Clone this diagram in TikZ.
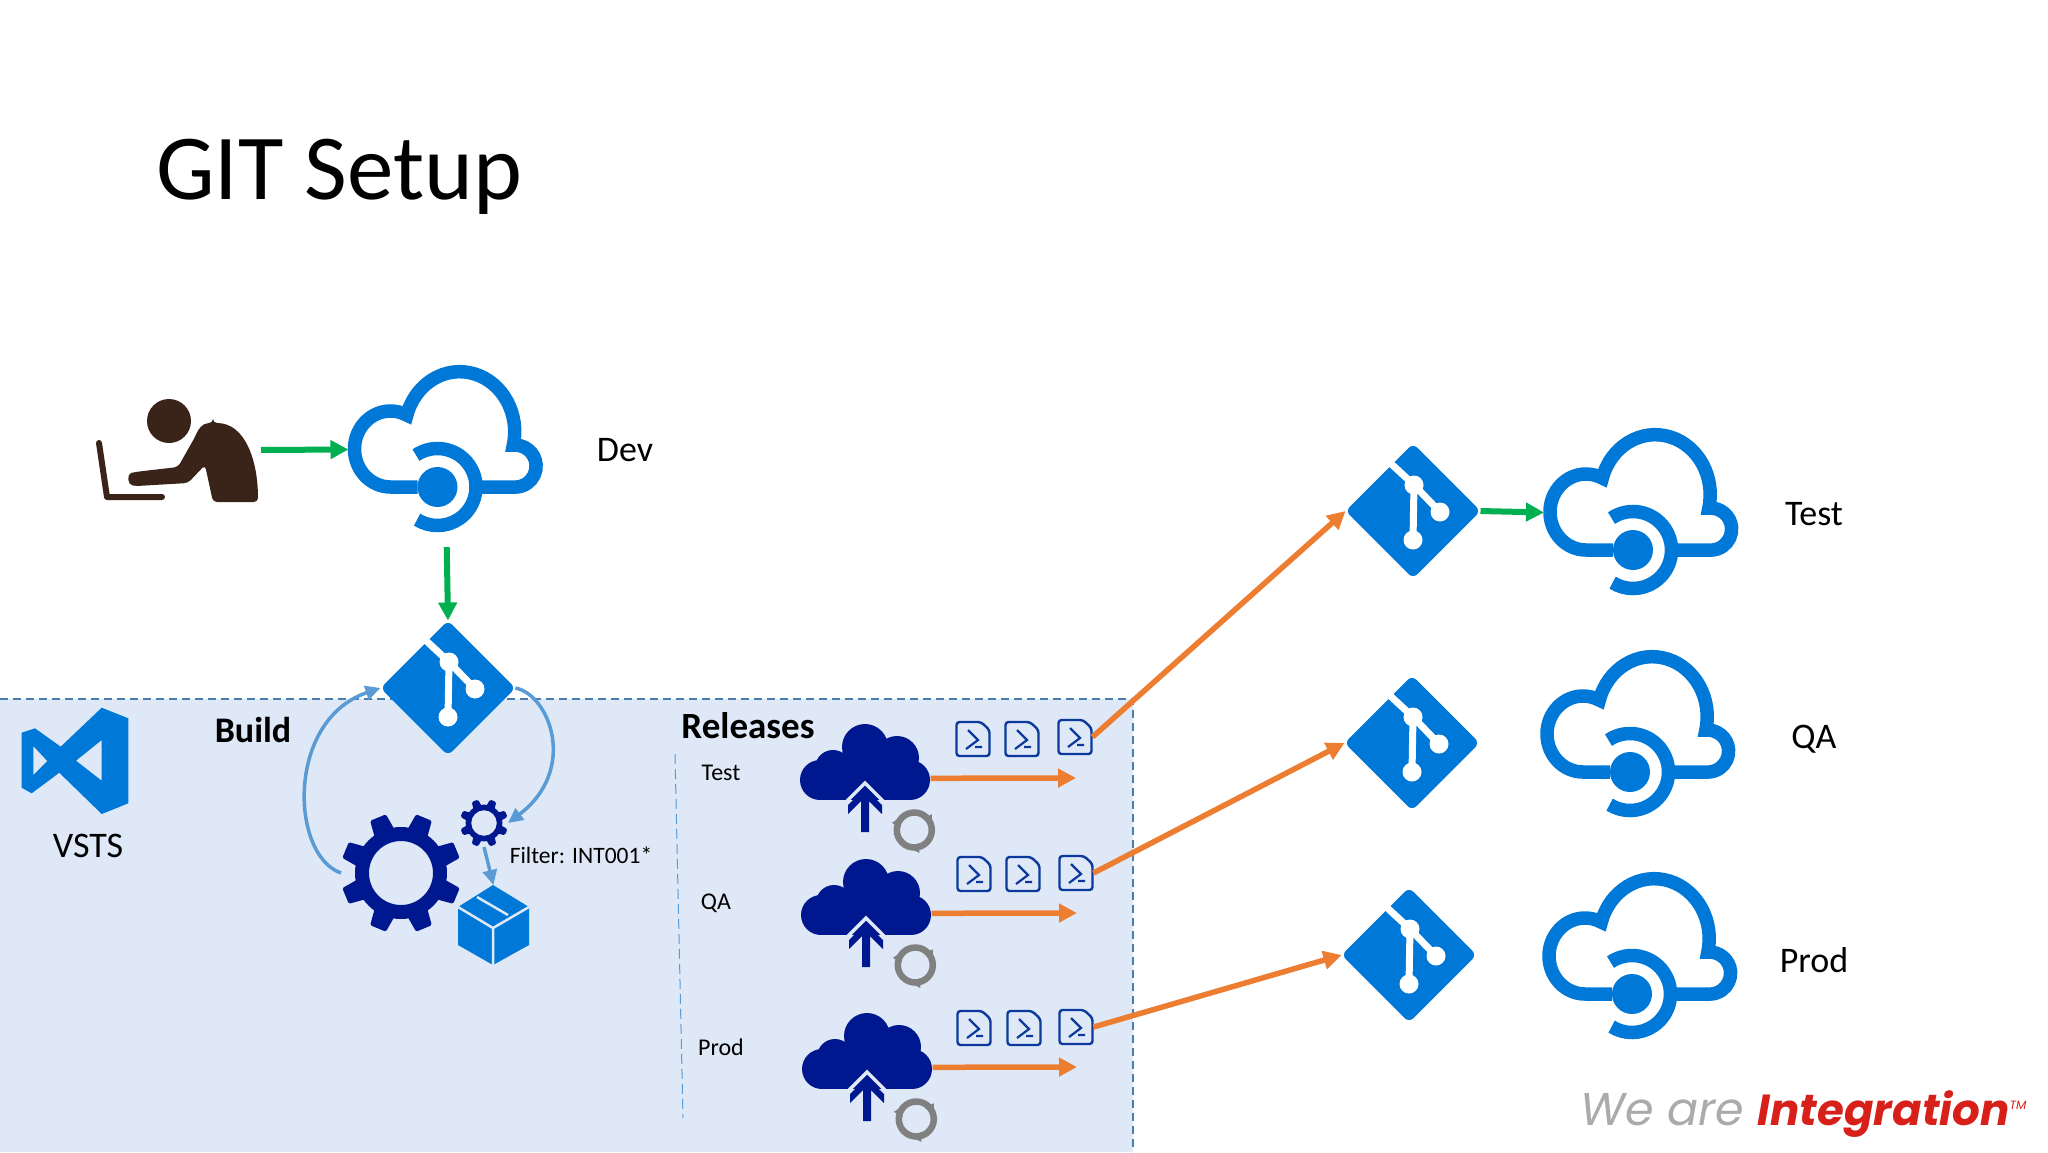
\documentclass[tikz,border=0pt]{standalone}
\usepackage{fontspec}
\setmainfont{Carlito}
\newfontfamily\logofont{Poppins}
\usetikzlibrary{arrows.meta, shapes.geometric}

\definecolor{azblue}{HTML}{0078D7}
\definecolor{navy}{HTML}{00188F}
\definecolor{scriptblue}{HTML}{0B3A9C}
\definecolor{vstsarea}{HTML}{DEE8F6}
\definecolor{areadash}{HTML}{4A7EB0}
\definecolor{linkblue}{HTML}{5B9BD5}
\definecolor{gitgreen}{HTML}{00B050}
\definecolor{deployorange}{HTML}{ED7D31}
\definecolor{userbrown}{HTML}{3A2318}
\definecolor{logored}{HTML}{D8201A}
\definecolor{logogray}{HTML}{ABABAB}

\tikzset{
  every pic/.style={yscale=-1},
  iconbox/.style={inner sep=0pt, outer sep=0pt, draw=none},
  label36/.style={inner sep=0pt, font=\fontsize{36}{40}\selectfont},
  label24/.style={inner sep=0pt, font=\fontsize{24}{28}\selectfont},
  greenarrow/.style={draw=gitgreen, line width=6pt, -{Triangle[length=18pt,width=18pt]}},
  orangearrow/.style={draw=deployorange, line width=5.5pt, -{Triangle[length=18pt,width=18pt]}},
  bluearrow/.style={draw=linkblue, line width=3.5pt, -{Triangle[length=15pt,width=14pt]}},
  % cloud with the repos ring, origin at the disc
  pics/azcloud/.style={code={
    \node[iconbox, minimum width=196pt, minimum height=169pt] (-box) at (9,-37.5) {};
    \draw[azblue, line width=13.5pt, line join=miter] (-20,0) -- (-47,0)
      arc[start angle=90, end angle=297, x radius=36pt, y radius=38pt]
      arc[start angle=196, end angle=373, x radius=55pt, y radius=60pt]
      arc[start angle=265, end angle=450, radius=21pt] -- (40,0);
    \draw[azblue, line width=13.5pt] (-124:38.5pt) arc[start angle=-124, end angle=122, radius=38.5pt];
    \fill[azblue] (0,0) circle (20pt);
  }},
  % git diamond
  pics/gitmark/.style={code={
    \node[iconbox, shape=diamond, aspect=1, minimum size=135pt, fill=azblue, rounded corners=6pt] (-box) {};
    \draw[white, line width=7pt] (-27,-52) -- (1,-26) -- (27,1);
    \draw[white, line width=7pt] (1,-26) -- (0,29);
    \fill[white] (1,-26) circle (9.5pt) (27,1) circle (9.5pt) (0,29) circle (9.5pt);
  }},
  % gear, #1 is the scale
  pics/gearicon/.style={code={
    \node[iconbox, minimum size={120pt*#1}] (-box) {};
    \begin{scope}[scale=#1]
      \fill[navy, even odd rule] (0,0) circle (46pt) (0,0) circle (32pt);
      \foreach \a in {22.5,67.5,...,337.5}
        \fill[navy, rotate=\a, rounded corners=1.5pt] (40,-11) -- (60,-8.5) -- (60,8.5) -- (40,11) -- cycle;
    \end{scope}
  }},
  % upload cloud with refresh ring, origin at the middle of the cloud base
  pics/relcloud/.style={code={
    \node[iconbox, minimum width=131.4pt, minimum height=108pt] (-box) at (0,-21.7) {};
    \fill[navy] (0,-53) circle (23pt) (32,-42) circle (22pt) (45,-20) circle (20pt)
      (-32,-32) circle (18pt) (-45,-20) circle (20pt);
    \fill[navy] (-45,-35) rectangle (45,0);
    \draw[vstsarea, line width=3.5pt] (-18,1) -- (0,-17) -- (18,1);
    \fill[navy] (0,-12) -- (-17,5) -- (-17,14) -- (-4,1) -- (-4,32) -- (4,32) -- (4,1) -- (17,14) -- (17,5) -- cycle;
    \begin{scope}[shift={(49.3,30)}]
      \draw[gray, line width=6.5pt] (0,0) circle (17.5pt);
      \foreach \a in {-30,90,210}
        \fill[gray, rotate=\a] (13,-5) -- (23,-5) -- (18,5) -- cycle;
    \end{scope}
  }},
  % powershell script page
  pics/scripticon/.style={code={
    \node[iconbox, minimum width=35pt, minimum height=36pt] (-box) {};
    \draw[scriptblue, line width=2.4pt, rounded corners=3pt] (-16.5,-17) -- (8,-17) -- (16.5,-9) -- (16.5,17) -- (-16.5,17) -- cycle;
    \draw[scriptblue, line width=2.2pt] (-5,-9) -- (5,1) -- (-7,10) (2,8) -- (9,8);
  }}
}

\begin{document}
\begin{tikzpicture}[x=1pt, y=1pt, yscale=-1]
\useasboundingbox (0,0) rectangle (2048,1152);
\fill[white] (0,0) rectangle (2048,1152);

% VSTS area
\fill[vstsarea] (0,699) rectangle (1133,1152);
\draw[areadash, line width=2pt, dash pattern=on 8pt off 5pt] (0,699) -- (1133,699) -- (1133,1152);
\draw[linkblue, line width=1pt, dash pattern=on 10pt off 5pt] (675,754) -- (683,1118);

\node[anchor=base west, inner sep=0pt, font=\fontsize{93}{100}\selectfont] (title) at (156,199) {GIT Setup};

% developer
\node[iconbox, minimum width=166pt, minimum height=162pt] (person) at (175,450) {};
\fill[userbrown] (169,421) circle (22pt);
\fill[userbrown, rounded corners=4pt] (213,423) .. controls (202,423) and (198,430) .. (195,437) -- (178,467) -- (135,472)
  .. controls (127,474) and (127,485) .. (137,486) -- (188,483) -- (205,465) -- (213,502) -- (258,502)
  .. controls (258,460) and (245,423) .. (213,423) -- cycle;
\draw[userbrown, line width=6pt, line cap=round, line join=round] (99,443) -- (107,497) -- (162,497);

% clouds
\pic (clouddev) at (437.5,487) {azcloud};
\pic (cloudtest) at (1633,550) {azcloud};
\pic (cloudqa) at (1630,772) {azcloud};
\pic (cloudprod) at (1632,994) {azcloud};
\node[label36] (devlabel) at (625,450) {Dev};
\node[label36] (testlabel) at (1814,514) {Test};
\node[label36] (qalabel) at (1814,739) {QA};
\node[label36] (prodlabel) at (1814,960) {Prod};

% git repos
\pic (gitdev) at (448,688) {gitmark};
\pic (gittest) at (1413,511) {gitmark};
\pic (gitqa) at (1412,743) {gitmark};
\pic (gitprod) at (1409,955) {gitmark};

% VSTS logo
\fill[azblue, even odd rule] (21.7,732.7) -- (35,728.3) -- (60.7,746.7) -- (101.7,707.7) -- (128.3,718.3) -- (128.3,803.3)
  -- (101.7,814) -- (59.3,772.7) -- (31.7,793.3) -- (21.7,787.7) -- cycle
  (33.3,746) -- (47.3,761) -- (33.3,775) -- cycle
  (101.7,740) -- (76,760.7) -- (101.7,780.7) -- cycle;
\node[label36] (vstslabel) at (88,846) {VSTS};

% build
\node[label36, font=\fontsize{36}{40}\selectfont\bfseries] (buildlabel) at (253,730) {Build};
\pic (geartall) at (401,873) {gearicon=1};
\pic (gearsmall) at (484,823) {gearicon=0.4};
\node[iconbox, minimum width=71pt, minimum height=80pt] (package) at (493.5,925) {};
\fill[azblue] (493,885) -- (529,907) -- (529,945) -- (493,965) -- (458,945) -- (458,907) -- cycle;
\draw[vstsarea, line width=2.5pt] (458,907) -- (493,928) -- (529,907) (493,928) -- (493,965) (477,897) -- (508,915);
\node[label24, font=\fontsize{23.5}{28}\selectfont] (filterlabel) at (581,855) {Filter: INT001*};

\draw[bluearrow] (geartall-box.west) .. controls (290,855) and (286,720) .. (gitdev-box.west);
\draw[bluearrow] (gitdev-box.east) .. controls (550,695) and (578,770) .. (gearsmall-box.east);
\draw[bluearrow] (gearsmall-box.south) -- (package.north);

% releases
\node[label36, font=\fontsize{37}{40}\selectfont\bfseries] (relabel) at (748,726) {Releases};
\node[label24] (reltestlabel) at (721,773) {Test};
\node[label24] (relqalabel) at (716,903) {QA};
\node[label24] (relprodlabel) at (721,1047) {Prod};

\pic (reltest) at (865,800) {relcloud};
\pic (relqa) at (866,935) {relcloud};
\pic (relprod) at (867,1089) {relcloud};

\pic (scripta1) at (973,739) {scripticon};
\pic (scripta2) at (1022,739) {scripticon};
\pic (scripta3) at (1075,737) {scripticon};
\pic (scriptb1) at (974,874) {scripticon};
\pic (scriptb2) at (1023,874) {scripticon};
\pic (scriptb3) at (1076,873) {scripticon};
\pic (scriptc1) at (974,1028) {scripticon};
\pic (scriptc2) at (1024,1028) {scripticon};
\pic (scriptc3) at (1076,1027) {scripticon};

\coordinate (endtest) at (1076,778);
\coordinate (endqa) at (1077,913);
\coordinate (endprod) at (1077,1067);

% connectors
\draw[greenarrow, shorten <=3pt] (person.east) -- (clouddev-box.west);
\draw[greenarrow, shorten <=13pt] (clouddev-box.south) -- (gitdev-box.north);
\draw[greenarrow] (gittest-box.east) -- (cloudtest-box.west);
\draw[orangearrow] (reltest-box.east) -- (endtest);
\draw[orangearrow] (relqa-box.east) -- (endqa);
\draw[orangearrow] (relprod-box.east) -- (endprod);
\draw[orangearrow] (scripta3-box.east) -- (gittest-box.west);
\draw[orangearrow] (scriptb3-box.east) -- (gitqa-box.west);
\draw[orangearrow] (scriptc3-box.east) -- (gitprod-box.west);

% footer logo
\node[anchor=base west, inner sep=0pt, font=\logofont\itshape\fontsize{46}{50}\selectfont] (logo) at (1580,1125)
  {\textcolor{logogray}{We are} \textcolor{logored}{\bfseries\fontsize{43.5}{50}\selectfont Integration}\textcolor{logored}{\raisebox{16pt}{\fontsize{12}{14}\selectfont TM}}};
\end{tikzpicture}
\end{document}
